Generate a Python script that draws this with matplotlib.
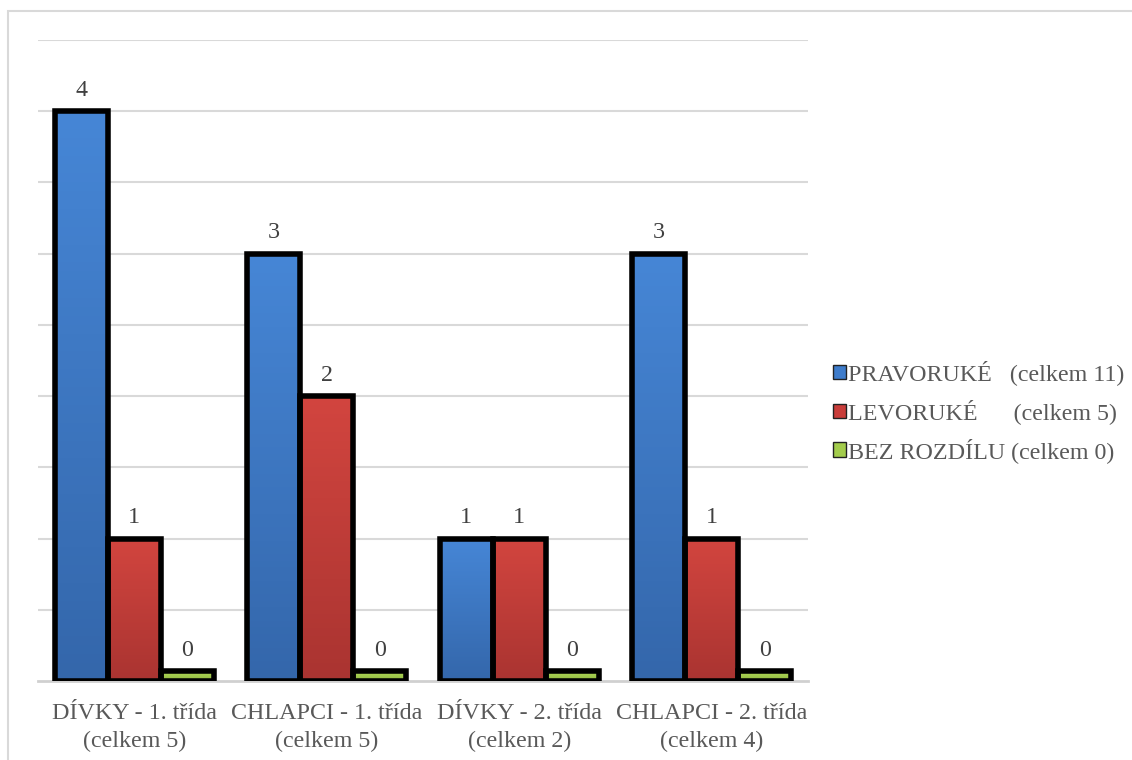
import matplotlib
matplotlib.use("Agg")
import matplotlib.pyplot as plt
from matplotlib.patches import Rectangle
from matplotlib.colors import LinearSegmentedColormap
import numpy as np

categories = ["DÍVKY - 1. třída\n(celkem 5)", "CHLAPCI - 1. třída\n(celkem 5)",
              "DÍVKY - 2. třída\n(celkem 2)", "CHLAPCI - 2. třída\n(celkem 4)"]
series_names = ["PRAVORUKÉ   (celkem 11)", "LEVORUKÉ      (celkem 5)",
                "BEZ ROZDÍLU (celkem 0)"]
pravoruke = [4, 3, 1, 3]
levoruke = [1, 2, 1, 1]
bez_rozdilu = [0, 0, 0, 0]

colors = ["#3e7ccb", "#c93d3a", "#a3cc4c"]
# top -> bottom shading of each bar
shades = [("#4686d6", "#3467ab"), ("#d2453f", "#aa3431"), ("#b2da58", "#90b842")]
text_color = "#595959"

plt.rcParams["font.family"] = ["Liberation Serif", "DejaVu Serif"]

fig = plt.figure(figsize=(11.32, 7.6), dpi=100)
# light frame around the chart area
fig.patches.append(Rectangle((8 / 1132, -0.1), 1.2, 1.1 - 11 / 760,
                             transform=fig.transFigure, fill=False,
                             edgecolor="#d9d9d9", linewidth=1.5))
ax = fig.add_axes([38 / 1132, 79 / 760, 770 / 1132, 641 / 760])

x = np.arange(len(categories))
w = 0.275
all_series = [pravoruke, levoruke, bez_rozdilu]
grad = np.linspace(1, 0, 64).reshape(-1, 1)
for i, vals in enumerate(all_series):
    vals = np.array(vals, dtype=float)
    shown = np.maximum(vals, 0.068)  # keep zero bars visible as a thin strip
    pos = x + (i - 1) * w
    bars = ax.bar(pos, shown, width=w, color=colors[i], linewidth=0,
                  label=series_names[i], zorder=3)
    cmap = LinearSegmentedColormap.from_list("s%d" % i, [shades[i][1], shades[i][0]])
    for b in bars:
        im = ax.imshow(grad, cmap=cmap, aspect="auto", zorder=3.5,
                       extent=[b.get_x(), b.get_x() + b.get_width(), 0, b.get_height()],
                       vmin=0, vmax=1)
        im.set_clip_path(b)
    ax.bar(pos, shown, width=w, fill=False, edgecolor="black", linewidth=4.0, zorder=4)
    for p, v, s in zip(pos, vals, shown):
        ax.annotate(f"{int(v)}", (p, s), xytext=(0, 7.5), textcoords="offset points",
                    ha="center", va="bottom", fontsize=17.3, color="#404040")

ax.set_ylim(0, 4.5)
ax.set_xlim(-0.5, len(categories) - 0.5)
ax.set_yticks(np.arange(0.5, 4.51, 0.5))
ax.set_yticklabels([])
ax.tick_params(axis="y", length=0)
ax.tick_params(axis="x", length=0, pad=16)
ax.set_xticks(x)
ax.set_xticklabels(categories, fontsize=17.3, color=text_color, linespacing=1.4)
ax.grid(axis="y", color="#d9d9d9", linewidth=1.5, zorder=0)
for side in ["top", "right", "left"]:
    ax.spines[side].set_visible(False)
ax.spines["bottom"].set_color("#d0d0d0")
ax.spines["bottom"].set_linewidth(2)
ax.spines["bottom"].set_zorder(2)

leg = ax.legend(loc="center left", bbox_to_anchor=(1.004, 0.42), frameon=False,
                fontsize=17.3, handlelength=0.55, handleheight=0.55, handletextpad=0.08,
                labelspacing=0.58, labelcolor=text_color)
for h in leg.legend_handles:
    h.set_linewidth(1)
    h.set_edgecolor("#222222")

fig.savefig("out.png", dpi=100)
